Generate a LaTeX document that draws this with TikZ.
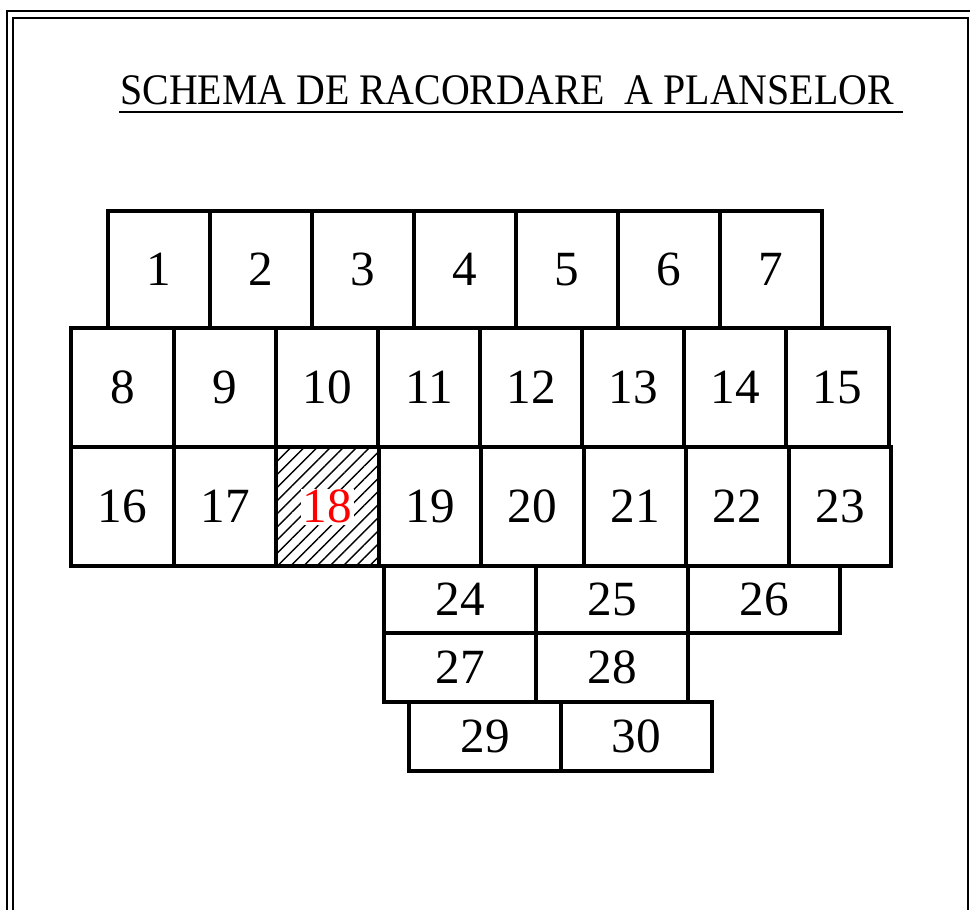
\documentclass[tikz,border=0pt]{standalone}
\usepackage{fontspec}
\setmainfont{Liberation Serif}
\newfontfamily\titlefont[FakeStretch=0.914]{Liberation Serif}
\usepackage{xcolor}
\usepackage{tikz}
\usetikzlibrary{patterns.meta}
\definecolor{mark}{HTML}{FF0000}
\tikzset{
    frameline/.style={line width=1.8pt, color=black},
    sheet/.style={line width=2.6pt, line join=miter},
    num/.style={font=\fontsize{35}{40}\selectfont, inner sep=1pt},
    hatched/.style={pattern={Lines[angle=45, distance=6.6pt, line width=1pt]}},
    heading/.style={font=\titlefont\fontsize{31}{36}\selectfont, inner sep=0pt, anchor=base west}
}
\begin{document}
\begin{tikzpicture}[x=0.025cm, y=-0.025cm]
    \useasboundingbox (0,0) rectangle (970,909);
    % double frame
    \draw [frameline] (7,11) rectangle (985,925);
    \draw [frameline] (13,18) rectangle (968,925);

    % title
    \node [heading] (title) at (120,104) {SCHEMA DE RACORDARE\ \ A PLANSELOR};
    \draw [frameline] (119,112) -- (903,112);

    % first row
    \draw [sheet] (108,211) rectangle (210,328) node [midway, num] (s1) {1};
    \draw [sheet] (210,211) rectangle (312,328) node [midway, num] (s2) {2};
    \draw [sheet] (312,211) rectangle (414,328) node [midway, num] (s3) {3};
    \draw [sheet] (414,211) rectangle (516,328) node [midway, num] (s4) {4};
    \draw [sheet] (516,211) rectangle (618,328) node [midway, num] (s5) {5};
    \draw [sheet] (618,211) rectangle (720,328) node [midway, num] (s6) {6};
    \draw [sheet] (720,211) rectangle (822,328) node [midway, num] (s7) {7};

    % second row
    \draw [sheet] (71,328) rectangle (174,447) node [midway, num] (s8) {8};
    \draw [sheet] (174,328) rectangle (276,447) node [midway, num] (s9) {9};
    \draw [sheet] (276,328) rectangle (378,447) node [midway, num] (s10) {10};
    \draw [sheet] (378,328) rectangle (480,447) node [midway, num] (s11) {11};
    \draw [sheet] (480,328) rectangle (582,447) node [midway, num] (s12) {12};
    \draw [sheet] (582,328) rectangle (684,447) node [midway, num] (s13) {13};
    \draw [sheet] (684,328) rectangle (786,447) node [midway, num] (s14) {14};
    \draw [sheet] (786,328) rectangle (889,447) node [midway, num] (s15) {15};

    % third row, 18 is the current sheet
    \draw [sheet] (71,447) rectangle (174,566) node [midway, num] (s16) {16};
    \draw [sheet] (174,447) rectangle (276,566) node [midway, num] (s17) {17};
    \draw [sheet, hatched] (276,447) rectangle (379,566)
        node [midway, num, fill=white, text=mark] (s18) {18};
    \draw [sheet] (379,447) rectangle (481,566) node [midway, num] (s19) {19};
    \draw [sheet] (481,447) rectangle (584,566) node [midway, num] (s20) {20};
    \draw [sheet] (584,447) rectangle (686,566) node [midway, num] (s21) {21};
    \draw [sheet] (686,447) rectangle (789,566) node [midway, num] (s22) {22};
    \draw [sheet] (789,447) rectangle (891,566) node [midway, num] (s23) {23};

    % lower rows
    \draw [sheet] (384,566) rectangle (536,633) node [midway, num] (s24) {24};
    \draw [sheet] (536,566) rectangle (688,633) node [midway, num] (s25) {25};
    \draw [sheet] (688,566) rectangle (840,633) node [midway, num] (s26) {26};
    \draw [sheet] (384,633) rectangle (536,702) node [midway, num] (s27) {27};
    \draw [sheet] (536,633) rectangle (688,702) node [midway, num] (s28) {28};
    \draw [sheet] (409,702) rectangle (561,771) node [midway, num] (s29) {29};
    \draw [sheet] (561,702) rectangle (712,771) node [midway, num] (s30) {30};
\end{tikzpicture}
\end{document}
